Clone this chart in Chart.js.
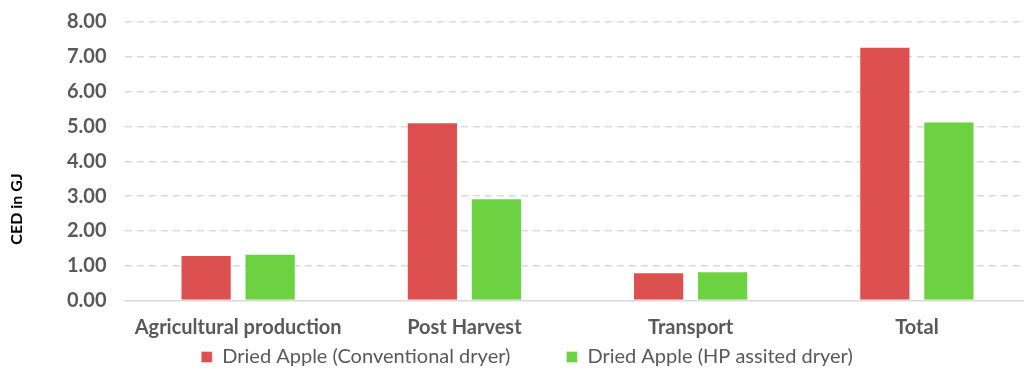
<!DOCTYPE html>
<html>
<head>
<meta charset="utf-8">
<script src="https://cdn.jsdelivr.net/npm/chart.js@4"></script>
<style>
html,body{margin:0;padding:0;background:#fff;overflow:hidden;}
#wrap{position:relative;width:1032px;height:369px;}
</style>
</head>
<body>
<div id="wrap"><canvas id="c"></canvas></div>
<script>
const categories = ["Agricultural production", "Post Harvest", "Transport", "Total"];
const conventional = [1.31, 5.12, 0.81, 7.29];
const hpAssisted = [1.34, 2.94, 0.84, 5.14];
const seriesNames = ["Dried Apple (Conventional dryer)", "Dried Apple (HP assited dryer)"];
const yTitle = "CED in GJ";

const FONT = "Lato, sans-serif";
const LEGEND_GAP = 56;
const LEGEND_FONT = 20;
const LEGEND_CENTER_Y = 357;
const LEGEND_LEFT = 24;

const yTitlePlugin = {
  id: 'yTitle',
  afterDraw(chart) {
    const ctx = chart.ctx;
    ctx.save();
    ctx.translate(17, 209);
    ctx.rotate(-Math.PI / 2);
    ctx.font = "bold 16px " + FONT;
    ctx.fillStyle = "#000";
    ctx.textAlign = "center";
    ctx.textBaseline = "middle";
    ctx.fillText(yTitle, 0, 0);
    ctx.restore();
  }
};

// keep the wide horizontal gap between legend items without a tall legend box
const legendShiftPlugin = {
  id: 'legendShift',
  afterLayout(chart) {
    const l = chart.legend;
    if (!l) return;
    l.top = LEGEND_CENTER_Y - LEGEND_GAP - LEGEND_FONT / 2;
    l.bottom = chart.height;
    l.left = LEGEND_LEFT;
  }
};

new Chart(document.getElementById('c'), {
  type: 'bar',
  data: {
    labels: categories,
    datasets: [
      { label: seriesNames[0], data: conventional, backgroundColor: '#dd5050', borderColor: 'rgba(255,255,255,0.35)', borderWidth: 1 },
      { label: seriesNames[1], data: hpAssisted, backgroundColor: '#6cd241', borderColor: 'rgba(255,255,255,0.35)', borderWidth: 1 }
    ]
  },
  options: {
    responsive: true,
    maintainAspectRatio: false,
    animation: false,
    layout: { padding: { top: 0, left: 67, right: 2, bottom: 0 } },
    datasets: { bar: { categoryPercentage: 0.566, barPercentage: 0.8 } },
    plugins: {
      tooltip: { enabled: false },
      legend: {
        position: 'bottom',
        maxHeight: 26,
        labels: {
          boxWidth: 11, boxHeight: 11, padding: LEGEND_GAP,
          color: '#595959',
          font: { family: FONT, size: LEGEND_FONT }
        }
      }
    },
    scales: {
      x: {
        grid: { display: false },
        afterFit(scale) { scale.height = 42.5; },
        border: { display: true, color: '#d9d9d9', width: 1.5 },
        ticks: { color: '#595959', font: { family: FONT, size: 20, weight: 'bold' }, padding: 7.5, maxRotation: 0, autoSkip: false }
      },
      y: {
        min: 0, max: 8,
        afterFit(scale) { scale.width = 58; },
        border: { display: false, dash: [7, 5] },
        grid: {
          color: (c) => c.tick && c.tick.value === 0 ? 'rgba(0,0,0,0)' : '#d9d9d9',
          lineWidth: 1.5,
          drawTicks: false
        },
        ticks: {
          stepSize: 1,
          padding: 10,
          crossAlign: 'far',
          color: '#595959',
          font: { family: FONT, size: 20, weight: 'bold' },
          callback: (v) => v.toFixed(2)
        }
      }
    }
  },
  plugins: [yTitlePlugin, legendShiftPlugin]
});
</script>
</body>
</html>
